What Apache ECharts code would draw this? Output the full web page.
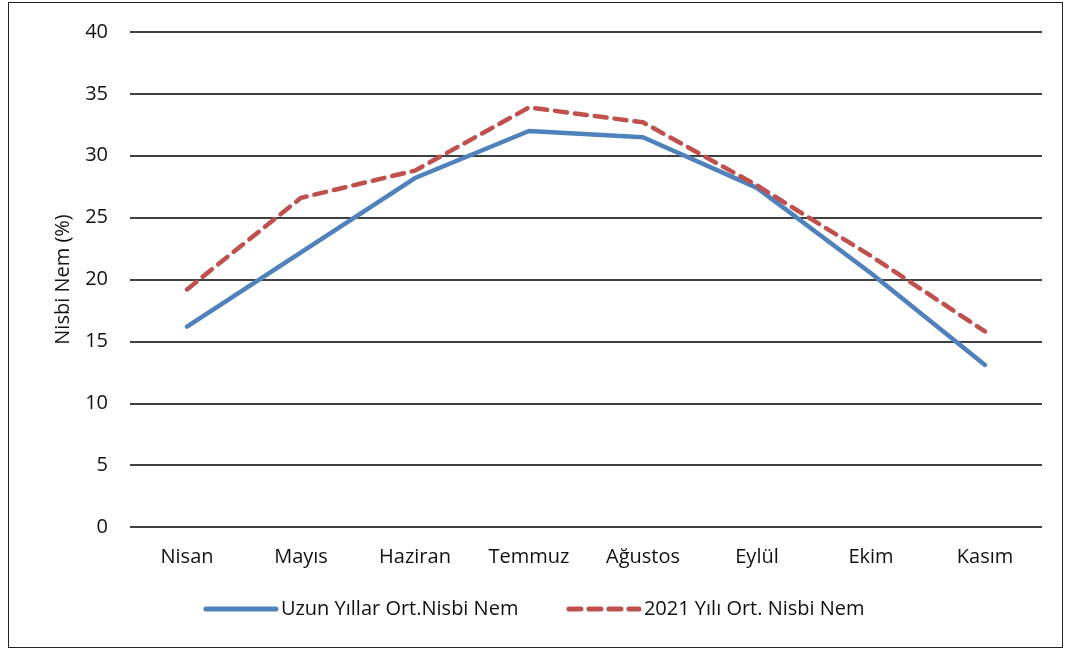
<!DOCTYPE html>
<html>
<head>
<meta charset="utf-8">
<script src="https://cdn.jsdelivr.net/npm/echarts@6/dist/echarts.min.js"></script>
<style>
  html, body { margin: 0; padding: 0; background: #fff; }
  #frame {
    position: absolute; left: 8px; top: 2px; width: 1055px; height: 646px;
    border: 1.5px solid #222; box-sizing: border-box;
  }
  #chart { position: absolute; left: 0; top: 0; width: 1068px; height: 652px; }
</style>
</head>
<body>
<div id="frame"></div>
<div id="chart"></div>
<script>
// aylar
const months = ['Nisan', 'Mayıs', 'Haziran', 'Temmuz', 'Ağustos', 'Eylül', 'Ekim', 'Kasım']
// uzun yıllar ortalaması
const longTerm = [16.2, 22.2, 28.2, 32.0, 31.5, 27.4, 20.5, 13.1]
// 2021 yılı
const year2021 = [19.2, 26.6, 28.8, 33.9, 32.7, 27.6, 21.9, 15.8]
const seriesNames = ['Uzun Yıllar Ort.Nisbi Nem', '2021 Yılı Ort. Nisbi Nem']

const font = '"Open Sans", sans-serif'

const chart = echarts.init(document.getElementById('chart'))
chart.setOption({
  animation: false,
  textStyle: { fontFamily: font },
  grid: { left: 130, right: 26, top: 32, bottom: 125, containLabel: false },
  legend: {
    bottom: 28,
    left: 'center',
    itemGap: 48,
    itemWidth: 70,
    itemHeight: 14,
    itemStyle: { opacity: 0 },
    lineStyle: { width: 5 },
    textStyle: { fontSize: 20, color: '#111', fontFamily: font },
    data: seriesNames
  },
  xAxis: {
    type: 'category',
    data: months,
    boundaryGap: true,
    axisLine: { show: false },
    axisTick: { show: false },
    axisLabel: { fontSize: 20, color: '#111', margin: 20 }
  },
  yAxis: {
    type: 'value',
    min: 0,
    max: 40,
    interval: 5,
    name: 'Nisbi Nem (%)',
    nameLocation: 'middle',
    nameGap: 57,
    nameTextStyle: { fontSize: 20, color: '#111' },
    axisLine: { show: false },
    axisTick: { show: false },
    axisLabel: { fontSize: 20, color: '#111', margin: 22 },
    splitLine: { lineStyle: { color: '#000', width: 1.5 } }
  },
  series: [
    {
      name: seriesNames[0],
      type: 'line',
      data: longTerm,
      symbol: 'none',
      lineStyle: { color: '#4F81BD', width: 4.5, cap: 'round' },
      itemStyle: { color: '#4F81BD' }
    },
    {
      name: seriesNames[1],
      type: 'line',
      data: year2021,
      symbol: 'none',
      lineStyle: { color: '#C0504D', width: 4.5, type: [12, 8], cap: 'round' },
      itemStyle: { color: '#C0504D' }
    }
  ]
})
</script>
</body>
</html>
